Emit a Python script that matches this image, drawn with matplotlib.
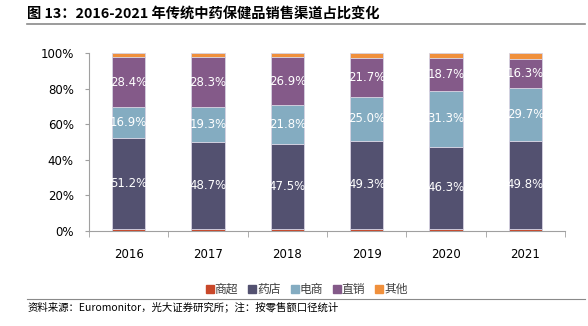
import matplotlib
matplotlib.use("Agg")
import matplotlib.pyplot as plt  # noqa: E402
from matplotlib.lines import Line2D  # noqa: E402
import numpy as np  # noqa: E402

plt.rcParams["font.family"] = ["Noto Sans CJK SC", "DejaVu Sans"]

years = ["2016", "2017", "2018", "2019", "2020", "2021"]
channels = ["商超", "药店", "电商", "直销", "其他"]
supermarket = [1.3, 1.4, 1.4, 1.2, 1.1, 1.0]
pharmacy = [51.2, 48.7, 47.5, 49.3, 46.3, 49.8]
online = [16.9, 19.3, 21.8, 25.0, 31.3, 29.7]
direct = [28.4, 28.3, 26.9, 21.7, 18.7, 16.3]
other = [2.2, 2.3, 2.4, 2.8, 2.6, 3.2]
colors = ["#c9482a", "#535170", "#84acc1", "#845a89", "#f0903c"]
labelled = {1, 2, 3}

fig = plt.figure(figsize=(5.88, 3.26), dpi=100)
ax = fig.add_axes([0.1514, 0.2914, 0.8095, 0.546])

series = [supermarket, pharmacy, online, direct, other]
x = np.arange(len(years))
bottom = np.zeros(len(years))
for i, (vals, col) in enumerate(zip(series, colors)):
    vals = np.array(vals)
    ax.bar(x, vals, width=0.42, bottom=bottom, color=col,
           edgecolor="#d6d2e2", linewidth=0.6)
    if i in labelled:
        for xi, b, v in zip(x, bottom, vals):
            ax.text(xi, b + v / 2, f"{v:.1f}%", ha="center", va="center",
                    color="white", fontsize=8.5, family="DejaVu Sans")
    bottom += vals

ax.set_xlim(-0.5, len(years) - 0.5)
ax.set_ylim(0, 100)
ax.set_yticks(np.arange(0, 101, 20))
ax.set_yticklabels([f"{v}%" for v in range(0, 101, 20)], fontsize=8.5,
                   family="DejaVu Sans")
ax.set_xticks(x)
ax.set_xticklabels(years, fontsize=8.5, family="DejaVu Sans")
ax.tick_params(axis="x", length=0, pad=12)
ax.set_xticks(np.arange(-0.5, len(years)), minor=True)
ax.tick_params(axis="x", which="minor", length=4, color="#a0a0a0")
ax.tick_params(axis="y", length=3, color="#a0a0a0", pad=8)
for sp in ("top", "right"):
    ax.spines[sp].set_visible(False)
for sp in ("left", "bottom"):
    ax.spines[sp].set_color("#a0a0a0")
    ax.spines[sp].set_linewidth(0.8)

handles = [Line2D([], [], marker="s", ls="", color=c, markersize=6)
           for c in colors]
fig.legend(handles, channels, loc="center", bbox_to_anchor=(0.522, 0.113),
           ncol=5, frameon=False, fontsize=8.5, handletextpad=0.1,
           columnspacing=0.9, handlelength=0.6, labelcolor="#404040")

fig.text(0.046, 0.957, "图 13：2016-2021 年传统中药保健品销售渠道占比变化",
         fontsize=10.3, fontweight="bold", va="center")
fig.add_artist(Line2D([0.046, 0.995], [0.926, 0.926], color="#8a8a8a",
                      lw=1.2, transform=fig.transFigure))
fig.add_artist(Line2D([0.046, 0.995], [0.083, 0.083], color="#8a8a8a",
                      lw=0.8, transform=fig.transFigure))
fig.text(0.046, 0.058, "资料来源：Euromonitor，光大证券研究所；注：按零售额口径统计",
         fontsize=7.5, va="center")

fig.savefig("out.png", dpi=100)
